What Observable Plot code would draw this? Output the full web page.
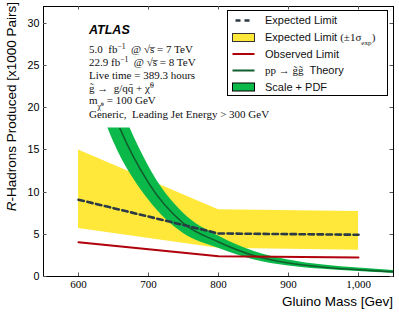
<!DOCTYPE html>
<html><head><meta charset="utf-8">
<script src="https://cdn.jsdelivr.net/npm/d3@7"></script>
<script src="https://cdn.jsdelivr.net/npm/@observablehq/plot@0.6"></script>
<style>body{margin:0;background:#fff;} svg{display:block}</style>
</head><body><div id="chart"></div>
<script>
// ---- data ----
const limitMass = [600, 800, 1000];
const expected  = [9.1, 5.1, 4.95];
const expLow    = [5.68, 3.35, 3.1];
const expHigh   = [15.0, 7.9, 7.7];
const observed  = [4.05, 2.4, 2.25];

const theoryMass = [600, 650, 700, 750, 800, 850, 900, 950, 1000, 1050];
const theory     = [34, 19.5, 11.1, 6.3, 4.1, 2.5, 1.6, 1.1, 0.8, 0.55];
const theoryHigh = [40, 23, 13.1, 7.5, 4.8, 3.0, 1.95, 1.35, 1.0, 0.7];
const theoryLow  = [28, 16, 9.1, 5.1, 3.35, 2.0, 1.25, 0.85, 0.6, 0.4];
const theoryVisibleMax = 17.6; // band is hidden above this (under the text box)

const xTicks = [600, 700, 800, 900, 1000];
const yTicks = [0, 5, 10, 15, 20, 25, 30];

const C = {yellow:"#ffe83a", green:"#0bb84a", dkgreen:"#115e2c", red:"#b0000c", dash:"#2b3a45"};

const limits = limitMass.map((m,i)=>({m, exp:expected[i], lo:expLow[i], hi:expHigh[i], obs:observed[i]}));
const th = theoryMass.map((m,i)=>({m, v:theory[i], lo:theoryLow[i], hi:theoryHigh[i]}));

const plot = Plot.plot({
  width:399, height:314, marginLeft:43, marginRight:6, marginTop:6, marginBottom:38,
  style:{background:"#fff", overflow:"visible"},
  x:{domain:[550,1050]},
  y:{domain:[0,32]},
  marks:[
    Plot.areaY(limits, {x:"m", y1:"lo", y2:"hi", fill:C.yellow}),
    Plot.areaY(th, {x:"m", y1:"lo", y2:"hi", fill:C.green, curve:"monotone-x"}),
    Plot.lineY(th, {x:"m", y:"v", stroke:C.dkgreen, strokeWidth:1.6, curve:"monotone-x"}),
    Plot.lineY(limits, {x:"m", y:"exp", stroke:C.dash, strokeWidth:2.6, strokeDasharray:"5.5,3.5"}),
    Plot.lineY(limits, {x:"m", y:"obs", stroke:C.red, strokeWidth:2}),
    Plot.frame({stroke:"#000", strokeWidth:1}),
    Plot.axisX(xTicks, {tickSize:0, tickPadding:4, label:null, fontFamily:"Liberation Serif", fontSize:11, fill:"#000"}),
    Plot.axisY(yTicks, {tickSize:0, tickPadding:4, label:null, fontFamily:"Liberation Sans", fontSize:10.7, fill:"#000"})
  ]
});
document.getElementById("chart").appendChild(plot);

const svg = d3.select(plot);
const xs = plot.scale("x"), ys = plot.scale("y");
const [X0, X1] = xs.range, [Y0, Y1] = ys.range; // Y0 bottom, Y1 top

// clip theory band + line
const groups = plot.querySelectorAll(":scope > g");
const capY = ys.apply(theoryVisibleMax);
svg.append("defs").append("clipPath").attr("id","thclip")
  .append("rect").attr("x",X0).attr("y",capY).attr("width",X1-X0).attr("height",Y0-capY);
d3.select(groups[1]).attr("clip-path","url(#thclip)");
d3.select(groups[2]).attr("clip-path","url(#thclip)");

// inward ticks on all four sides
const tk = svg.append("g").attr("stroke","#555").attr("stroke-width",1);
for (const t of xTicks) {
  const px = Math.round(xs.apply(t)) + 0.5;
  tk.append("line").attr("x1",px).attr("x2",px).attr("y1",Y0).attr("y2",Y0-3.5);
  tk.append("line").attr("x1",px).attr("x2",px).attr("y1",Y1).attr("y2",Y1+3.5);
}
for (const t of yTicks) {
  const py = Math.round(ys.apply(t)) + 0.5;
  tk.append("line").attr("x1",X0).attr("x2",X0+3.5).attr("y1",py).attr("y2",py);
  tk.append("line").attr("x1",X1).attr("x2",X1-3.5).attr("y1",py).attr("y2",py);
}

// axis titles
svg.append("text").attr("x",X1).attr("y",305.5).attr("text-anchor","end")
  .attr("font-family","Liberation Sans").attr("font-size",13.5).text("Gluino Mass [Gev]");
const yl = svg.append("text").attr("transform","translate(16,2) rotate(-90)").attr("text-anchor","end")
  .attr("font-family","Liberation Sans").attr("font-size",13.5);
yl.append("tspan").attr("font-style","italic").text("R");
yl.append("tspan").text("-Hadrons Produced [x1000 Pairs]");

// rich text helper
function rich(sel, parts) {
  for (const p of parts) {
    const [s, kind] = Array.isArray(p) ? p : [p, null];
    const t = sel.append("tspan").text(s);
    if (kind === "sup") t.attr("baseline-shift","super").attr("font-size","70%");
    if (kind === "sub") t.attr("baseline-shift","sub").attr("font-size","70%");
    if (kind === "sans") t.attr("font-family","Liberation Sans");
    if (kind === "serif") t.attr("font-family","Liberation Serif");
    if (kind === "serifsub") t.attr("font-family","Liberation Serif").attr("baseline-shift","sub").attr("font-size","65%");
  }
  return sel;
}

// annotation block
svg.append("text").attr("x",89).attr("y",34).attr("text-anchor","start").attr("font-family","Liberation Sans")
  .attr("font-weight","bold").attr("font-style","italic").attr("font-size",12.5).text("ATLAS");
const ann = [
  ["5.0  fb", ["\u22121","sup"], "  @ \u221As\u0305 = 7 TeV"],
  ["22.9 fb", ["\u22121","sup"], "  @ \u221As\u0305 = 8 TeV"],
  ["Live time = 389.3 hours"],
  ["g\u0303 \u2192  g/qq\u0304 + \u03C7\u0303", ["0","sup"]],
  ["m", ["\u03C7\u0303\u2070","sub"], " = 100 GeV"],
  ["Generic,  Leading Jet Energy > 300 GeV"]
];
const annY = [53, 66, 79, 91.5, 104, 118];
ann.forEach((parts,i) => {
  rich(svg.append("text").attr("x",89).attr("y",annY[i]).attr("text-anchor","start").attr("font-family","Liberation Serif")
    .attr("font-size",11).attr("fill","#111"), parts);
});

// legend
const lg = svg.append("g");
lg.append("rect").attr("x",227.5).attr("y",10.5).attr("width",160).attr("height",85)
  .attr("fill","#fff").attr("stroke","#000").attr("stroke-width",1);
const rowY = [20.5, 37.5, 54, 70.5, 87];
lg.append("line").attr("x1",235.5).attr("x2",250.5).attr("y1",rowY[0]).attr("y2",rowY[0])
  .attr("stroke",C.dash).attr("stroke-width",2.6).attr("stroke-dasharray","5,4");
lg.append("rect").attr("x",232.5).attr("y",rowY[1]-4).attr("width",22).attr("height",8)
  .attr("fill",C.yellow).attr("stroke","#333").attr("stroke-width",1);
lg.append("line").attr("x1",232.5).attr("x2",254.5).attr("y1",rowY[2]).attr("y2",rowY[2])
  .attr("stroke",C.red).attr("stroke-width",2);
lg.append("line").attr("x1",232.5).attr("x2",254.5).attr("y1",rowY[3]).attr("y2",rowY[3])
  .attr("stroke",C.dkgreen).attr("stroke-width",2);
lg.append("rect").attr("x",232.5).attr("y",rowY[4]-4).attr("width",22).attr("height",8)
  .attr("fill",C.green).attr("stroke","#000").attr("stroke-width",1);
const legTexts = [
  ["Expected Limit"],
  ["Expected Limit ", ["(\u00B11\u03C3","serif"], ["exp","serifsub"], [")","serif"]],
  ["Observed Limit"],
  [["pp \u2192 g\u0303g\u0303","serif"], "  Theory"],
  ["Scale + PDF"]
];
legTexts.forEach((parts,i) => {
  rich(lg.append("text").attr("x",265).attr("y",rowY[i]).attr("dy","0.36em").attr("text-anchor","start")
    .attr("font-family","Liberation Sans").attr("font-size",11).attr("fill","#111"), parts);
});
</script></body></html>
